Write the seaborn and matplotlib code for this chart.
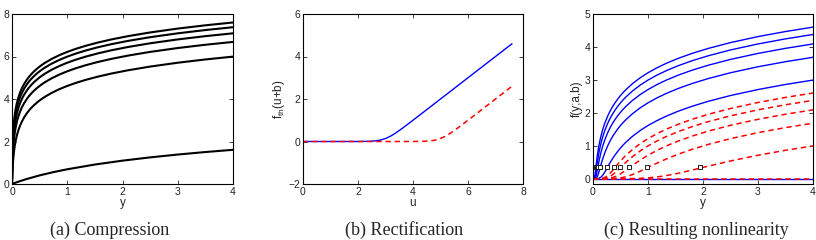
import numpy as np
import matplotlib
matplotlib.use("Agg")
import matplotlib.pyplot as plt
import seaborn as sns

y_grid = [0, .001, .003, .006, .01, .015, .02, .025, .03, .035, .04, .05, .06, .07, .08, .09,
          .1, .12, .15, .18, .22, .27, .3, .33, .36, .4, .45, .5, .55, .6, .72, .86,
          1, 1.15, 1.33, 1.55, 1.8, 2.1, 2.5, 3, 3.5, 4]

# ---- (a) compression curves ----
comp_y_1 = [0, 0.1, 0.25, 0.5, 0.75, 1, 1.5, 2, 2.5, 3, 3.5, 4]
comp_f_1 = [0, 0.0953, 0.2231, 0.4055, 0.5596, 0.6931, 0.9163, 1.0986, 1.2528, 1.3863, 1.5041, 1.6094]
comp_f_100 = [0, .0953, .2624, .4700, .6931, .9163, 1.0986, 1.2528, 1.3863, 1.5041, 1.6094, 1.7918,
              1.9459, 2.0794, 2.1972, 2.3026, 2.3979, 2.5649, 2.7726, 2.9444, 3.1355, 3.3322, 3.4340,
              3.5264, 3.6109, 3.7136, 3.8286, 3.9318, 4.0254, 4.1109, 4.2905, 4.4659, 4.6151, 4.7536,
              4.8978, 5.0499, 5.1985, 5.3519, 5.5255, 5.7071, 5.8608, 5.9940]
comp_f_200 = [0, .1823, .4700, .7885, 1.0986, 1.3863, 1.6094, 1.7918, 1.9459, 2.0794, 2.1972, 2.3979,
              2.5649, 2.7081, 2.8332, 2.9444, 3.0445, 3.2189, 3.4340, 3.6109, 3.8067, 4.0073, 4.1109,
              4.2047, 4.2905, 4.3944, 4.5109, 4.6151, 4.7095, 4.7958, 4.9767, 5.1533, 5.3033, 5.4424,
              5.5872, 5.7398, 5.8889, 6.0426, 6.2166, 6.3986, 6.5525, 6.6859]
comp_f_300 = [0, .2624, .6419, 1.0296, 1.3863, 1.7047, 1.9459, 2.1401, 2.3026, 2.4423, 2.5649, 2.7726,
              2.9444, 3.0910, 3.2189, 3.3322, 3.4340, 3.6109, 3.8286, 4.0073, 4.2047, 4.4067, 4.5109,
              4.6052, 4.6913, 4.7958, 4.9127, 5.0173, 5.1120, 5.1985, 5.3799, 5.5568, 5.7071, 5.8464,
              5.9915, 6.1442, 6.2934, 6.4473, 6.6214, 6.8035, 6.9575, 7.0909]
comp_f_400 = [0, .3365, .7885, 1.2238, 1.6094, 1.9459, 2.1972, 2.3979, 2.5649, 2.7081, 2.8332, 3.0445,
              3.2189, 3.3673, 3.4965, 3.6109, 3.7136, 3.8918, 4.1109, 4.2905, 4.4886, 4.6913, 4.7958,
              4.8903, 4.9767, 5.0814, 5.1985, 5.3033, 5.3982, 5.4848, 5.6664, 5.8435, 5.9940, 6.1334,
              6.2785, 6.4313, 6.5806, 6.7346, 6.9088, 7.0909, 7.2449, 7.3784]
comp_f_500 = [0, .4055, .9163, 1.3863, 1.7918, 2.1401, 2.3979, 2.6027, 2.7726, 2.9178, 3.0445, 3.2581,
              3.4340, 3.5835, 3.7136, 3.8286, 3.9318, 4.1109, 4.3307, 4.5109, 4.7095, 4.9127, 5.0173,
              5.1120, 5.1985, 5.3033, 5.4205, 5.5255, 5.6204, 5.7071, 5.8889, 6.0661, 6.2166, 6.3561,
              6.5013, 6.6542, 6.8035, 6.9575, 7.1317, 7.3139, 7.4679, 7.6014]

# ---- (b) rectification ----
rect_u_solid = [0, 1, 2, 2.4, 2.6, 2.8, 3.0, 3.2, 3.4, 3.6, 3.8, 4.0, 4.4, 5, 6, 7, 7.6]
rect_f_solid = [0, 0, 0.001, 0.01, 0.025, 0.063, 0.139, 0.263, 0.425, 0.61, 0.804, 1.001, 1.4, 2, 3, 4, 4.6]
rect_u_dash = [0, 1, 2, 3, 4, 4.4, 4.6, 4.8, 5.0, 5.2, 5.4, 5.6, 5.8, 6.0, 6.4, 7, 7.6]
rect_f_dash = [0, 0, 0, 0, 0.001, 0.01, 0.025, 0.063, 0.139, 0.263, 0.425, 0.61, 0.804, 1.001, 1.4, 2, 2.6]

# ---- (c) resulting nonlinearity, solid blue ----
res_f_b100 = [0, 0, 0, 0, 0, 0, 0, 0, 0, 0, 0, 0, .001, .002, .0036, .006, .0096, .0215, .0557,
              .1128, .2176, .3670, .4556, .5403, .6201, .7191, .8317, .9336, 1.0266, 1.1117, 1.2905,
              1.4659, 1.6151, 1.7536, 1.8978, 2.0499, 2.1985, 2.3519, 2.5255, 2.7071, 2.8608, 2.9940]
res_f_b200 = [0, 0, 0, 0, 0, 0, 0, 0, .001, .002, .0036, .0096, .0215, .0418, .0721, .1128, .1621,
              .2766, .4556, .6201, .8102, 1.0086, 1.1117, 1.2052, 1.2905, 1.3944, 1.5109, 1.6151,
              1.7095, 1.7958, 1.9767, 2.1533, 2.3033, 2.4424, 2.5872, 2.7398, 2.8889, 3.0426, 3.2166,
              3.3986, 3.5525, 3.6859]
res_f_b300 = [0, 0, 0, 0, 0, 0, .001, .0027, .006, .0119, .0215, .0557, .1128, .1893, .2766, .3670,
              .4556, .6201, .8317, 1.0086, 1.2052, 1.4067, 1.5109, 1.6052, 1.6913, 1.7958, 1.9127,
              2.0173, 2.1120, 2.1985, 2.3799, 2.5568, 2.7071, 2.8464, 2.9915, 3.1442, 3.2934, 3.4473,
              3.6214, 3.8035, 3.9575, 4.0909]
res_f_b400 = [0, 0, 0, 0, 0, .001, .0036, .0096, .0215, .0418, .0721, .1621, .2766, .3969, .5125,
              .6201, .7191, .8941, 1.1117, 1.2905, 1.4886, 1.6913, 1.7958, 1.8903, 1.9767, 2.0814,
              2.1985, 2.3033, 2.3982, 2.4848, 2.6664, 2.8435, 2.9940, 3.1334, 3.2785, 3.4313, 3.5806,
              3.7346, 3.9088, 4.0909, 4.2449, 4.3784]
res_f_b500 = [0, 0, 0, 0, 0, .0027, .0096, .0257, .0557, .1017, .1621, .3067, .4556, .5941, .7191,
              .8317, .9336, 1.1117, 1.3307, 1.5109, 1.7095, 1.9127, 2.0173, 2.1120, 2.1985, 2.3033,
              2.4205, 2.5255, 2.6204, 2.7071, 2.8889, 3.0661, 3.2166, 3.3561, 3.5013, 3.6542, 3.8035,
              3.9575, 4.1317, 4.3139, 4.4679, 4.6014]
res_y_flat = [0, 4]
res_f_flat = [0, 0]

# ---- (c) dashed red ----
res_f_r100 = [0] * 28 + [.0014, .0023, .0057, .0134, .0272, .0512, .0940, .1651, .2616, .3837,
                         .5395, .7128, .8635, .9953]
res_f_r200 = [0] * 21 + [.0014, .0023, .0037, .0057, .0095, .0166, .0272, .0421, .0615, .1273,
                         .2296, .3430, .4632, .5975, .7447, .8912, 1.0437, 1.2171, 1.3988,
                         1.5525, 1.6859]
res_f_r300 = [0] * 19 + [.0014, .0037, .0100, .0166, .0260, .0387, .0615, .0997, .1475, .2024,
                         .2616, .4078, .5687, .7128, .8493, .9928, 1.1449, 1.2938, 1.4473,
                         1.6214, 1.8035, 1.9575, 2.0909]
res_f_r400 = [0] * 17 + [.0008, .0023, .0057, .0149, .0387, .0615, .0912, .1273, .1834, .2616,
                         .3430, .4238, .5018, .6734, .8464, .9953, 1.1341, 1.2788, 1.4313,
                         1.5806, 1.7346, 1.9088, 2.0909, 2.2449, 2.3784]
res_f_r500 = [0] * 16 + [.0010, .0023, .0069, .0166, .0421, .0997, .1475, .2024, .2616, .3430,
                         .4435, .5395, .6292, .7128, .8912, 1.0671, 1.2171, 1.3563, 1.5013,
                         1.6542, 1.8035, 1.9575, 2.1317, 2.3139, 2.4679, 2.6014]

# squares marked on panel (c)
mark_y = [0.051, 0.064, 0.085, 0.128, 0.256, 0.39, 0.49, 0.65, 0.975, 1.95]
mark_f = [0.35] * 10

captions = ["(a) Compression", "(b) Rectification", "(c) Resulting nonlinearity"]

sns.set_style("ticks")
plt.rcParams["font.family"] = ["Liberation Sans", "DejaVu Sans"]
plt.rcParams["mathtext.fontset"] = "custom"
plt.rcParams["mathtext.rm"] = "Liberation Sans"
plt.rcParams["mathtext.it"] = "Liberation Sans"

fig = plt.figure(figsize=(8.16, 2.4), dpi=100)
ax_a = fig.add_axes([12 / 816, 56 / 240, 221 / 816, 170 / 240])
ax_b = fig.add_axes([303 / 816, 56 / 240, 220 / 816, 170 / 240])
ax_c = fig.add_axes([593 / 816, 56 / 240, 220 / 816, 170 / 240])


def line(ax, x, y, color, lw, ls="-"):
    sns.lineplot(x=np.array(x), y=np.array(y), ax=ax, color=color, lw=lw,
                 linestyle=ls, estimator=None, sort=False, legend=False)


def style_axes(ax):
    ax.tick_params(direction="in", top=True, right=True, length=3, width=0.6,
                   labelsize=7.5, pad=2, colors="#222222")
    for s in ax.spines.values():
        s.set_linewidth(0.8)
        s.set_color("black")


dash = (0, (3.5, 2.5))
lab = 8.5

# (a)
line(ax_a, comp_y_1, comp_f_1, "black", 1.5)
for ff in [comp_f_100, comp_f_200, comp_f_300, comp_f_400, comp_f_500]:
    line(ax_a, y_grid, ff, "black", 1.5)
ax_a.set_xlim(0, 4)
ax_a.set_ylim(0, 8)
ax_a.set_xticks([0, 1, 2, 3, 4])
ax_a.set_yticks([0, 2, 4, 6, 8])
ax_a.set_xlabel("y", fontsize=lab, labelpad=0)
ax_a.set_ylabel("")

# (b)
line(ax_b, rect_u_solid, rect_f_solid, "blue", 1.0)
line(ax_b, rect_u_dash, rect_f_dash, "red", 1.1, dash)
ax_b.set_xlim(0, 8)
ax_b.set_ylim(-2, 6)
ax_b.set_xticks([0, 2, 4, 6, 8])
ax_b.set_yticks([-2, 0, 2, 4, 6])
ax_b.set_xlabel("u", fontsize=lab, labelpad=0)
ax_b.set_ylabel("f$_{th}$(u+b)", fontsize=lab, labelpad=1)

# (c)
line(ax_c, res_y_flat, res_f_flat, "blue", 1.0)
for ff in [res_f_b100, res_f_b200, res_f_b300, res_f_b400, res_f_b500]:
    line(ax_c, y_grid, ff, "blue", 1.0)
line(ax_c, res_y_flat, res_f_flat, "red", 1.1, dash)
for ff in [res_f_r100, res_f_r200, res_f_r300, res_f_r400, res_f_r500]:
    line(ax_c, y_grid, ff, "red", 1.1, dash)
sns.scatterplot(x=mark_y, y=mark_f, ax=ax_c, marker="s", s=9, facecolor="white",
                edgecolor="black", linewidth=0.6, zorder=5, legend=False)
ax_c.set_xlim(0, 4)
ax_c.set_ylim(-0.16, 5)
ax_c.set_xticks([0, 1, 2, 3, 4])
ax_c.set_yticks([0, 1, 2, 3, 4, 5])
ax_c.set_xlabel("y", fontsize=lab, labelpad=0)
ax_c.set_ylabel("f(y;a,b)", fontsize=lab, labelpad=1)

for ax in (ax_a, ax_b, ax_c):
    style_axes(ax)

# captions under each panel
for xc, txt in zip([110, 404, 696], captions):
    fig.text(xc / 816, 1 - 230 / 240, txt, ha="center", va="center",
             fontsize=13, family=["Liberation Serif", "DejaVu Serif"])

fig.savefig("out.png", dpi=100)
